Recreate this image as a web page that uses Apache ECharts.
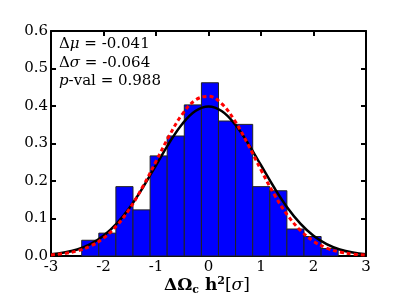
<!DOCTYPE html>
<html>
<head>
<meta charset="utf-8">
<script src="https://cdn.jsdelivr.net/npm/echarts@6/dist/echarts.min.js"></script>
<style>html,body{margin:0;padding:0;background:#fff;}#c{width:407px;height:307px;}</style>
</head>
<body>
<div id="c"></div>
<script>
// Histogram bins (left/right edges) and heights
var binEdges = [-2.415, -2.089, -1.764, -1.438, -1.112, -0.787, -0.461, -0.135, 0.190, 0.516, 0.842, 1.168, 1.493, 1.819, 2.145, 2.470];
var binHeights = [0.042, 0.061, 0.185, 0.123, 0.267, 0.320, 0.403, 0.462, 0.360, 0.351, 0.185, 0.174, 0.072, 0.052, 0.020];
// Curve sample points
var curveX = [-3, -2.75, -2.5, -2.25, -2, -1.75, -1.5, -1.25, -1, -0.75, -0.5, -0.25, 0, 0.25, 0.5, 0.75, 1, 1.25, 1.5, 1.75, 2, 2.25, 2.5, 2.75, 3];
var blackY = [0.0044, 0.0091, 0.0175, 0.0317, 0.0540, 0.0863, 0.1295, 0.1826, 0.2420, 0.3011, 0.3521, 0.3867, 0.3989, 0.3867, 0.3521, 0.3011, 0.2420, 0.1826, 0.1295, 0.0863, 0.0540, 0.0317, 0.0175, 0.0091, 0.0044];
var redY = [0.0029, 0.0065, 0.0135, 0.0263, 0.0477, 0.0805, 0.1265, 0.1851, 0.2522, 0.3199, 0.3779, 0.4157, 0.4258, 0.4061, 0.3607, 0.2982, 0.2296, 0.1646, 0.1099, 0.0683, 0.0395, 0.0213, 0.0107, 0.0050, 0.0022];
var xTicks = [-3, -2, -1, 0, 1, 2, 3];
var yTicks = [0.0, 0.1, 0.2, 0.3, 0.4, 0.5, 0.6];
var annotations = [
  ['Δ', 'μ', ' = -0.041'],
  ['Δ', 'σ', ' = -0.064'],
  ['', 'p', '-val = 0.988']
];

var FONT = 'DejaVu Serif';
var bars = [];
for (var i = 0; i < binHeights.length; i++) bars.push([binEdges[i], binEdges[i + 1], binHeights[i]]);
var blackData = curveX.map(function (x, i) { return [x, blackY[i]]; });
var redData = curveX.map(function (x, i) { return [x, redY[i]]; });

var chart = echarts.init(document.getElementById('c'), null, {renderer: 'canvas'});
var lineCol = '#000';
function xAx(pos, showLabel) {
  return {
    type: 'value', position: pos, min: xTicks[0], max: xTicks[xTicks.length - 1], interval: 1,
    axisLine: {show: true, onZero: false, lineStyle: {color: lineCol, width: 2}},
    axisTick: {show: true, inside: true, length: 5, lineStyle: {color: lineCol, width: 2}},
    axisLabel: {show: showLabel, color: '#000', fontFamily: FONT, fontSize: 15, margin: 4,
      formatter: function (v) { return String(v); }},
    splitLine: {show: false}
  };
}
function yAx(pos, showLabel) {
  return {
    type: 'value', position: pos, min: yTicks[0], max: yTicks[yTicks.length - 1], interval: 0.1,
    axisLine: {show: true, onZero: false, lineStyle: {color: lineCol, width: 2}},
    axisTick: {show: true, inside: true, length: 5, lineStyle: {color: lineCol, width: 2}},
    axisLabel: {show: showLabel, color: '#000', fontFamily: FONT, fontSize: 15, margin: 3,
      formatter: function (v) { return v.toFixed(1); }},
    splitLine: {show: false}
  };
}

var graphics = annotations.map(function (a, i) {
  return {
    type: 'text', left: 59, top: 37 + i * 18.5, z: 100,
    style: {
      text: '{n|' + a[0] + '}{i|' + a[1] + '}{n|' + a[2] + '}',
      rich: {
        n: {fontFamily: FONT, fontSize: 15, fill: '#000'},
        i: {fontFamily: FONT, fontSize: 15, fontStyle: 'italic', fill: '#000'}
      }
    }
  };
});
graphics.push({
  type: 'text', left: 164, top: 276, z: 100,
  style: {
    text: '{b|ΔΩ}{s|c}{b| h}{p|2}{n|[}{i|σ}{n|]}',
    rich: {
      b: {fontFamily: FONT, fontSize: 17, fontWeight: 'bold', fill: '#000', lineHeight: 20},
      s: {fontFamily: FONT, fontSize: 11, fontWeight: 'bold', fill: '#000', verticalAlign: 'bottom', lineHeight: 20},
      p: {fontFamily: FONT, fontSize: 11, fontWeight: 'bold', fill: '#000', verticalAlign: 'top', lineHeight: 20},
      n: {fontFamily: FONT, fontSize: 17, fill: '#000', lineHeight: 20},
      i: {fontFamily: FONT, fontSize: 17, fontStyle: 'italic', fill: '#000', lineHeight: 20}
    }
  }
});

chart.setOption({
  animation: false,
  backgroundColor: '#fff',
  grid: {left: 51, right: 41, top: 31, bottom: 51, containLabel: false},
  xAxis: [xAx('bottom', true), xAx('top', false)],
  yAxis: [yAx('left', true), yAx('right', false)],
  graphic: graphics,
  series: [
    {
      type: 'custom', xAxisIndex: 0, yAxisIndex: 0, data: bars, z: 2,
      renderItem: function (params, api) {
        var p0 = api.coord([api.value(0), api.value(2)]);
        var p1 = api.coord([api.value(1), 0]);
        return {
          type: 'rect',
          shape: {x: p0[0], y: p0[1], width: p1[0] - p0[0], height: p1[1] - p0[1]},
          style: {fill: '#0000ff', stroke: '#222', lineWidth: 1}
        };
      }
    },
    {
      type: 'line', data: blackData, smooth: 0.4, symbol: 'none', z: 3,
      lineStyle: {color: '#000', width: 2.5}
    },
    {
      type: 'line', data: redData, smooth: 0.4, symbol: 'none', z: 4,
      lineStyle: {color: '#ff0000', width: 3, type: [4, 3]}
    }
  ]
});
</script>
</body>
</html>
